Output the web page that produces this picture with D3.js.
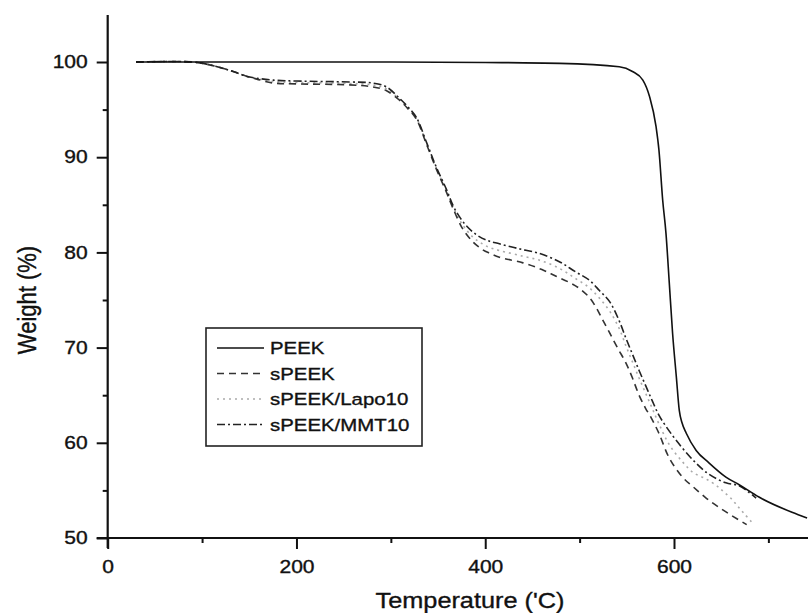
<!DOCTYPE html>
<html>
<head>
<meta charset="utf-8">
<script src="https://cdn.jsdelivr.net/npm/d3@7/dist/d3.min.js"></script>
<style>
  html, body { margin: 0; padding: 0; background: #fff; }
  svg { display: block; font-family: "Liberation Sans", Arial, Helvetica, sans-serif; }
</style>
</head>
<body>
<svg id="chart" width="808" height="613"></svg>
<script>
// ---- data ----
const seriesNames = ["PEEK", "sPEEK", "sPEEK/Lapo10", "sPEEK/MMT10"];

const tempPEEK = [30, 100, 200, 300, 400, 479, 542, 556, 567, 574, 581, 584, 588, 591.5, 595, 598.5, 602.5, 605.6, 608.5, 613, 623.5, 637, 655, 669, 690, 725, 741];
const wPEEK    = [100, 100, 100, 100, 99.95, 99.86, 99.5, 99.0, 98.1, 96.4, 93.2, 90.8, 85.5, 82.0, 76.8, 71.5, 66.9, 63.4, 62.1, 61.0, 59.2, 57.9, 56.4, 55.6, 54.3, 52.7, 52.1];

const tempSPEEK = [30, 90, 108, 133, 147, 158, 175, 200, 256, 280, 295, 309, 318, 327, 338, 348, 359, 366, 376, 387, 397, 405, 415, 440, 460, 475, 490, 500, 510, 517, 524, 531, 540, 549, 556, 563, 570, 576, 584, 595, 609, 620, 634, 648, 662, 677];
const wSPEEK    = [100, 100, 99.7, 99.0, 98.5, 98.2, 97.8, 97.7, 97.6, 97.4, 97.0, 96.0, 95.1, 94.0, 91.3, 88.8, 86.3, 84.6, 82.5, 81.1, 80.3, 79.9, 79.5, 78.9, 78.2, 77.5, 76.8, 76.2, 75.3, 74.3, 73.0, 71.7, 70.0, 68.4, 66.8, 65.0, 63.6, 62.6, 61.0, 58.4, 56.4, 55.4, 54.2, 53.2, 52.3, 51.4];

const tempLapo = [30, 90, 108, 133, 147, 158, 175, 200, 256, 280, 295, 309, 318, 327, 338, 348, 359, 366, 376, 387, 397, 405, 415, 440, 460, 479, 495, 510, 521, 532, 542, 549, 556, 563, 570, 577, 584, 595, 609, 620, 634, 645, 651, 660, 667, 674, 682];
const wLapo    = [100, 100, 99.7, 99.0, 98.5, 98.25, 97.95, 97.85, 97.75, 97.6, 97.2, 96.1, 95.2, 94.1, 91.4, 88.9, 86.4, 84.7, 82.9, 81.6, 80.9, 80.5, 80.2, 79.6, 79.1, 78.3, 77.3, 76.3, 75.2, 73.8, 72.0, 70.2, 68.5, 66.8, 65.2, 63.6, 62.0, 59.8, 58.0, 56.9, 56.2, 55.5, 55.0, 54.2, 53.4, 52.6, 51.7];

const tempMMT = [30, 90, 108, 133, 147, 158, 175, 200, 256, 280, 295, 309, 318, 327, 338, 348, 359, 366, 373, 380, 390, 401, 415, 435, 457, 479, 495, 510, 521, 532, 542, 549, 556, 563, 570, 577, 584, 591, 602, 620, 637, 655, 669, 678, 687];
const wMMT    = [100, 100, 99.7, 99.0, 98.5, 98.3, 98.1, 98.0, 97.9, 97.8, 97.4, 96.2, 95.3, 94.2, 91.5, 89.0, 86.6, 84.9, 83.7, 82.8, 81.9, 81.3, 80.9, 80.4, 79.9, 79.0, 78.0, 77.1, 76.0, 74.8, 72.8, 71.0, 69.3, 67.6, 66.0, 64.4, 62.9, 61.8, 60.3, 58.2, 56.7, 55.8, 55.5, 54.9, 54.2];

const xMajorTicks = [0, 200, 400, 600];
const xMinorTicks = [100, 300, 500, 700];
const yMajorTicks = [50, 60, 70, 80, 90, 100];
const yMinorTicks = [55, 65, 75, 85, 95];

const xTitle = "Temperature ('C)";
const yTitle = "Weight (%)";

// ---- layout ----
const svg = d3.select("#chart");
const X0 = 107.7, Y0 = 538, YTOP = 15;
const x = d3.scaleLinear().domain([0, 600]).range([X0, 674]);
const y = d3.scaleLinear().domain([50, 100]).range([Y0, 62]);
const SX = 1.2; // horizontal text stretch

// axes
const yAxisG = svg.append("g").attr("transform", `translate(${X0},0)`)
  .call(d3.axisLeft(y).tickValues(yMajorTicks).tickSize(11).tickSizeOuter(0).tickPadding(9));
svg.append("g").attr("transform", `translate(${X0},0)`)
  .call(d3.axisLeft(y).tickValues(yMinorTicks).tickSize(5).tickFormat(""))
  .select(".domain").remove();

const xAxisG = svg.append("g").attr("transform", `translate(0,${Y0})`)
  .call(d3.axisBottom(x).tickValues(xMajorTicks).tickSize(11).tickSizeOuter(0).tickPadding(9));
svg.append("g").attr("transform", `translate(0,${Y0})`)
  .call(d3.axisBottom(x).tickValues(xMinorTicks).tickSize(5).tickFormat(""))
  .select(".domain").remove();

// extend domain lines
yAxisG.select(".domain").attr("d", `M0,${YTOP}V${Y0 + 10}`);
xAxisG.select(".domain").attr("d", `M${X0 - 11},0H808`);

svg.selectAll(".domain").attr("stroke", "#111").attr("stroke-width", 2.2);
svg.selectAll(".tick line").attr("stroke", "#111").attr("stroke-width", 2);

const textStroke = (sel) => sel.attr("stroke", "#111").attr("stroke-width", 0.35);

yAxisG.selectAll(".tick text")
  .attr("font-size", 17.5).attr("fill", "#111")
  .attr("font-family", '"Liberation Sans", Arial, sans-serif')
  .attr("x", -20 / SX)
  .attr("transform", `scale(${SX},1)`)
  .call(textStroke);
xAxisG.selectAll(".tick text")
  .attr("font-size", 17.5).attr("fill", "#111")
  .attr("font-family", '"Liberation Sans", Arial, sans-serif')
  .attr("y", 23)
  .attr("transform", `scale(${SX},1)`)
  .call(textStroke);

// titles
svg.append("text")
  .attr("transform", `translate(470,608) scale(1.15,1)`)
  .attr("text-anchor", "middle").attr("font-size", 22).attr("fill", "#111")
  .text(xTitle).call(textStroke);
svg.append("text")
  .attr("transform", `translate(36,300) rotate(-90) scale(1,1.15)`)
  .attr("text-anchor", "middle").attr("font-size", 22).attr("fill", "#111")
  .text(yTitle).call(textStroke);

// lines
const styles = [
  { color: "#111", dash: null, width: 1.6 },
  { color: "#333", dash: "7,5", width: 1.6 },
  { color: "#aaa", dash: "2,4", width: 1.6 },
  { color: "#222", dash: "8,3,2,3", width: 1.6 }
];
const allSeries = [
  tempPEEK.map((t, i) => [t, wPEEK[i]]),
  tempSPEEK.map((t, i) => [t, wSPEEK[i]]),
  tempLapo.map((t, i) => [t, wLapo[i]]),
  tempMMT.map((t, i) => [t, wMMT[i]])
];
const line = d3.line().x(d => x(d[0])).y(d => y(d[1])).curve(d3.curveMonotoneX);
const smooth = d3.line().x(d => x(d[0])).y(d => y(d[1])).curve(d3.curveCatmullRom.alpha(0.5));

const plot = svg.append("g");
[2, 1, 3, 0].forEach(i => {
  plot.append("path")
    .datum(allSeries[i])
    .attr("d", i === 0 ? line : smooth)
    .attr("fill", "none")
    .attr("stroke", styles[i].color)
    .attr("stroke-width", styles[i].width)
    .attr("stroke-dasharray", styles[i].dash);
});

// legend
const lg = svg.append("g");
const LX = 206, LY = 328, LW = 216, LH = 118;
lg.append("rect").attr("x", LX).attr("y", LY).attr("width", LW).attr("height", LH)
  .attr("fill", "#fff").attr("stroke", "#222").attr("stroke-width", 1.6);
const rowY = [348, 373.5, 399, 424.5];
seriesNames.forEach((name, i) => {
  lg.append("line")
    .attr("x1", 217).attr("x2", 264).attr("y1", rowY[i]).attr("y2", rowY[i])
    .attr("stroke", styles[i].color).attr("stroke-width", 1.6)
    .attr("stroke-dasharray", styles[i].dash);
  lg.append("text")
    .attr("transform", `translate(270,${rowY[i] + 6}) scale(${SX},1)`)
    .attr("font-size", 17).attr("fill", "#111")
    .text(name).call(textStroke);
});
</script>
</body>
</html>
